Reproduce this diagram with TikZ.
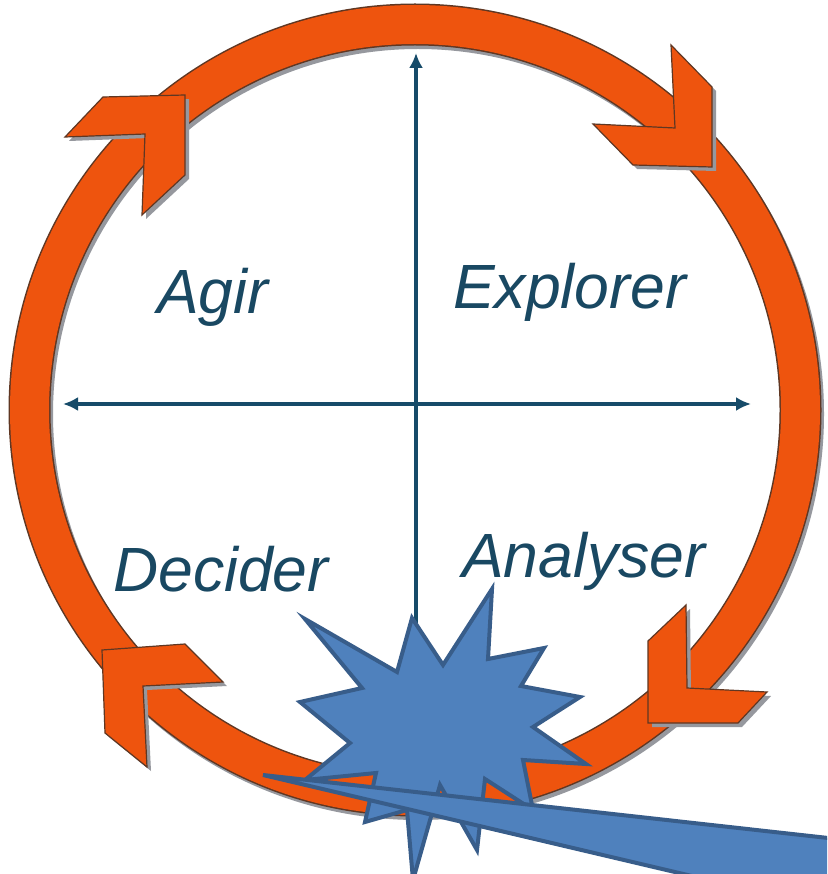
\documentclass[tikz,border=0pt]{standalone}
\usepackage{fontspec}
\setmainfont{Liberation Sans}
\usetikzlibrary{arrows.meta,calc}
\definecolor{ringorange}{RGB}{238,84,14}
\definecolor{ringedge}{RGB}{95,55,35}
\definecolor{shadowgray}{RGB}{150,152,158}
\definecolor{axisblue}{RGB}{22,75,105}
\definecolor{labelblue}{RGB}{25,72,98}
\definecolor{starfill}{RGB}{79,129,189}
\definecolor{staredge}{RGB}{56,93,138}
\tikzset{
  chevron/.style={fill=ringorange, draw=ringedge, line width=1.2pt, line join=miter},
  chevshadow/.style={fill=shadowgray},
  axisline/.style={draw=axisblue, line width=3.6pt, -{Latex[length=15pt,width=14pt]}},
  quadlabel/.style={anchor=base west, text=labelblue, font=\fontsize{62.5}{70}\selectfont\itshape, inner sep=0pt},
  burst/.style={fill=starfill, draw=staredge, line width=4pt, line join=miter, miter limit=10},
}
\begin{document}
\begin{tikzpicture}[x=1pt,y=-1pt]
\useasboundingbox (0,0) rectangle (827,874);
\fill[white] (0,0) rectangle (827,874);
\clip (0,0) rectangle (827,874);
% ring
\coordinate (c) at (415,410);
\coordinate (cs) at (418,414);
\draw[shadowgray, line width=41pt] (cs) circle[radius=385.5];
\fill[ringedge, even odd rule] (c) circle[radius=406.5] (c) circle[radius=364.5];
\fill[ringorange, even odd rule] (c) circle[radius=405] (c) circle[radius=366];
% chevron shadows
\begin{scope}[shift={(4,4)}]
\fill[chevshadow] (712,167) -- (633,165) -- (593,124) -- (675,128) -- (671,45) -- (712,87) -- cycle;
\fill[chevshadow] (185,95) -- (103,97) -- (65,137) -- (145,134) -- (142,215) -- (185,175) -- cycle;
\fill[chevshadow] (102,650) -- (185,644) -- (223,682) -- (143,686) -- (147,767) -- (105,733) -- cycle;
\fill[chevshadow] (648,723) -- (648,641) -- (686,605) -- (687,688) -- (767,692) -- (738,723) -- cycle;
\end{scope}
% chevrons
\draw[chevron] (712,167) -- (633,165) -- (593,124) -- (675,128) -- (671,45) -- (712,87) -- cycle;
\draw[chevron] (185,95) -- (103,97) -- (65,137) -- (145,134) -- (142,215) -- (185,175) -- cycle;
\draw[chevron] (102,650) -- (185,644) -- (223,682) -- (143,686) -- (147,767) -- (105,733) -- cycle;
\draw[chevron] (648,723) -- (648,641) -- (686,605) -- (687,688) -- (767,692) -- (738,723) -- cycle;
% axes
\coordinate (vbot) at (416,720);
\coordinate (vtop) at (416,53);
\coordinate (hl) at (63,404);
\coordinate (hr) at (751,404);
\draw[axisline] (vbot) -- (vtop);
\draw[axisline, {Latex[length=15pt,width=14pt]}-{Latex[length=15pt,width=14pt]}] (hl) -- (hr);
% labels
\node[quadlabel] (agir) at (157,313) {Agir};
\node[quadlabel] (explorer) at (453,308) {Explorer};
\node[quadlabel] (decider) at (113,591) {Decider};
\node[quadlabel] (analyser) at (462,577) {Analyser};
% burst
\draw[burst] (305,619) -- (397,672) -- (412,618) -- (443,665) -- (492,589) -- (488,659)
  -- (544,648) -- (521,686) -- (580,697) -- (533,727) -- (586,764) -- (523,760)
  -- (533,810) -- (485,779) -- (477,850) -- (440,785) -- (413,880) -- (407,810)
  -- (365,822) -- (376,773) -- (305,780) -- (350,743) -- (300,702) -- (362,688) -- cycle;
% callout wedge
\draw[burst] (263,775) -- (900,846) -- (900,925) -- cycle;
\end{tikzpicture}
\end{document}
